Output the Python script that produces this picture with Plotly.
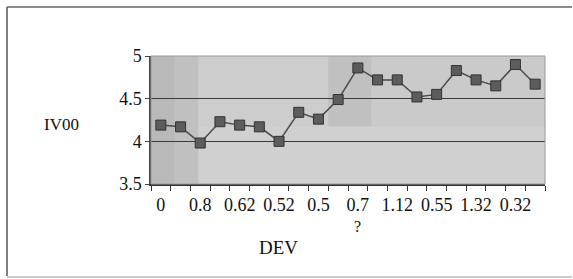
import plotly.graph_objects as go

categories = [f"c{i}" for i in range(20)]
iv00 = [4.19, 4.17, 3.98, 4.23, 4.19, 4.17, 4.00, 4.34, 4.26, 4.49,
        4.86, 4.72, 4.72, 4.52, 4.55, 4.83, 4.72, 4.65, 4.90, 4.67]
label_idx = [0, 2, 4, 6, 8, 10, 12, 14, 16, 18]
tick_labels = ["0", "0.8", "0.62", "0.52", "0.5", "0.7", "1.12", "0.55", "1.32", "0.32"]
wrapped_idx = 10
wrapped_text = "?"
y_ticks = [3.5, 4, 4.5, 5]

FONT = "Liberation Serif, Times New Roman, serif"

fig = go.Figure()
fig.add_trace(go.Scatter(
    x=categories, y=iv00, mode="lines+markers",
    line=dict(color="#4a4a4a", width=1.5),
    marker=dict(symbol="square", size=10, color="#5c5c5c",
                line=dict(color="#333333", width=1)),
    showlegend=False, cliponaxis=False,
))

# soft background shading (scanned halftone look)
bands = [
    (0.0, 0.06, 0.0, 1.0, "#b9b9b9"),
    (0.06, 0.12, 0.0, 1.0, "#c0c0c0"),
    (0.12, 0.45, 0.45, 1.0, "#cdcdcd"),
    (0.45, 0.56, 0.45, 1.0, "#c0c0c0"),
    (0.56, 1.0, 0.45, 1.0, "#cacaca"),
    (0.12, 1.0, 0.0, 0.45, "#d0d0d0"),
]
for x0, x1, y0, y1, c in bands:
    fig.add_shape(type="rect", xref="x domain", yref="y domain",
                  x0=x0, x1=x1, y0=y0, y1=y1, fillcolor=c,
                  line=dict(width=0), layer="below")

# outer chart frame (left, top, bottom)
W, H = 573, 279
L, R, T, B = 151, 28, 56, 95
pw, ph = W - L - R, H - T - B
def px(x): return (x - L) / pw
def py(y): return (H - B - y) / ph
fig.add_shape(type="line", xref="paper", yref="paper",
              x0=px(7), x1=px(7), y0=py(7), y1=py(276),
              line=dict(color="#555555", width=1.5))
fig.add_shape(type="line", xref="paper", yref="paper",
              x0=px(7), x1=px(572), y0=py(7), y1=py(7),
              line=dict(color="#666666", width=1.5))
fig.add_shape(type="line", xref="paper", yref="paper",
              x0=px(7), x1=px(572), y0=py(277), y1=py(277),
              line=dict(color="#9a9a9a", width=1))

fig.add_annotation(text="IV00", xref="paper", yref="paper",
                   x=px(61), y=py(124), xanchor="center", yanchor="middle",
                   showarrow=False,
                   font=dict(family=FONT, size=17, color="#111111"))
fig.add_annotation(text="DEV", xref="paper", yref="paper",
                   x=px(278), y=py(247), xanchor="center", yanchor="middle",
                   showarrow=False,
                   font=dict(family=FONT, size=19, color="#111111"))
# second line of the wrapped category label
fig.add_annotation(text=wrapped_text, xref="x", yref="paper",
                   x=categories[wrapped_idx], y=py(226), xanchor="center",
                   yanchor="middle", showarrow=False,
                   font=dict(family=FONT, size=16, color="#111111"))

fig.update_xaxes(
    type="category", categoryorder="array", categoryarray=categories,
    tickmode="array", tickvals=[categories[i] for i in label_idx], ticktext=tick_labels,
    showgrid=False, showline=True, linecolor="#333333", linewidth=1.5,
    mirror=False, ticks="", range=[-0.5, 19.5],
    tickfont=dict(family=FONT, size=18, color="#111111"),
    ticklabelstandoff=4,
)
# tick marks between categories
fig.update_xaxes(minor=dict(ticks="outside", ticklen=5, tickcolor="#333333",
                            tickmode="array",
                            tickvals=[i - 0.5 for i in range(21)]))
fig.update_yaxes(
    range=[3.5, 5], tickmode="array", tickvals=y_ticks,
    ticktext=["3.5", "4", "4.5", "5"],
    showgrid=True, gridcolor="#3a3a3a", gridwidth=1,
    showline=True, linecolor="#444444", linewidth=1.5,
    ticks="outside", ticklen=4, tickcolor="#444444",
    tickfont=dict(family=FONT, size=18, color="#111111"),
    zeroline=False,
)
fig.add_shape(type="rect", xref="x domain", yref="y domain",
              x0=0, x1=1, y0=0, y1=1, line=dict(color="#9a9a9a", width=1),
              fillcolor="rgba(0,0,0,0)", layer="above")

fig.update_layout(
    width=W, height=H,
    margin=dict(l=L, r=R, t=T, b=B),
    paper_bgcolor="white", plot_bgcolor="#c8c8c8",
    font=dict(family=FONT),
)
fig.write_html("out.html",
               config={"displayModeBar": False},
               post_script="document.body.style.margin='0';"
                           "document.body.style.overflow='hidden';")
